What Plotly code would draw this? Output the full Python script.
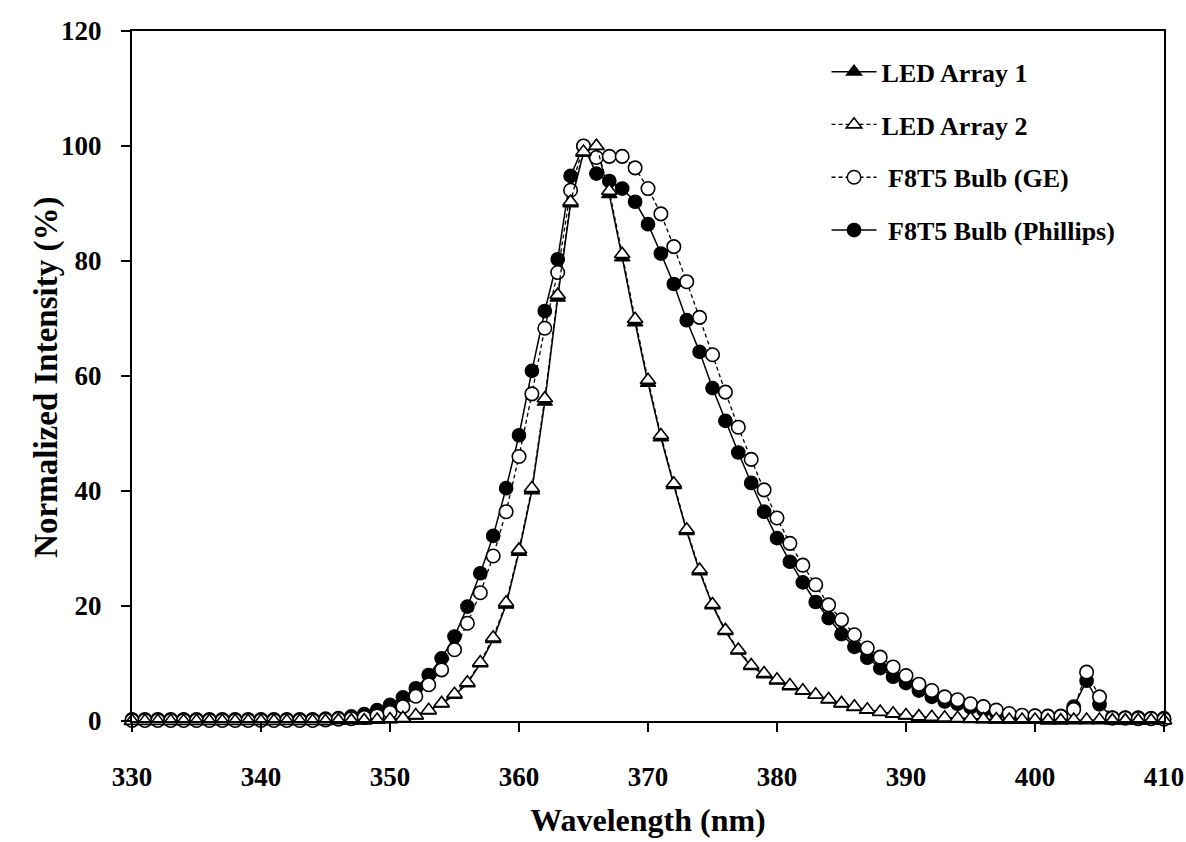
import plotly.graph_objects as go

wavelength = list(range(330, 411))

led_array_1 = [0, 0, 0, 0, 0, 0, 0, 0, 0, 0,
               0, 0, 0, 0, 0, 0, 0.1, 0.1, 0.1, 0.2,
               0.3, 0.5, 0.9, 1.8, 3.0, 4.5, 6.5, 10.0, 14.2, 20.2,
               29.4, 40.1, 55.5, 73.6, 90.0, 98.8, 100, 91.6, 80.6, 69.3,
               58.8, 49.3, 41.0, 33.0, 26.0, 20.1, 15.6, 12.2, 9.5, 8.1,
               7.0, 6.0, 5.2, 4.5, 3.7, 3.0, 2.4, 1.9, 1.5, 1.2,
               0.9, 0.7, 0.6, 0.5, 0.4, 0.3, 0.3, 0.2, 0.2, 0.2,
               0.2, 0.1, 0.1, 0.1, 0.1, 0.1, 0.1, 0.1, 0.1, 0.1, 0.1]

led_array_2 = [0, 0, 0, 0, 0, 0, 0, 0, 0, 0,
               0, 0, 0, 0, 0, 0, 0.1, 0.1, 0.1, 0.2,
               0.3, 0.5, 1.0, 1.9, 3.1, 4.7, 6.7, 10.2, 14.5, 20.6,
               29.8, 40.5, 56.1, 74.1, 90.3, 99.0, 100, 92.2, 81.2, 69.9,
               59.3, 49.7, 41.3, 33.3, 26.3, 20.3, 15.8, 12.4, 9.7, 8.3,
               7.2, 6.2, 5.3, 4.6, 3.8, 3.1, 2.5, 2.0, 1.6, 1.3,
               1.0, 0.8, 0.7, 0.6, 0.5, 0.4, 0.3, 0.3, 0.2, 0.2,
               0.2, 0.1, 0.1, 0.2, 0.2, 0.2, 0.1, 0.1, 0.1, 0.1, 0.1]

f8t5_ge = [0.1, 0.1, 0.1, 0.1, 0.1, 0.1, 0.1, 0.1, 0.1, 0.1,
           0.1, 0.1, 0.1, 0.1, 0.1, 0.2, 0.3, 0.4, 0.6, 0.9,
           1.5, 2.5, 4.3, 6.3, 8.9, 12.4, 17.0, 22.3, 28.7, 36.4,
           46.0, 56.9, 68.3, 78.0, 92.3, 100, 98.0, 98.2, 98.2, 96.2,
           92.6, 88.2, 82.5, 76.4, 70.2, 63.7, 57.2, 51.1, 45.5, 40.2,
           35.3, 30.9, 27.1, 23.7, 20.2, 17.6, 15.0, 12.7, 11.1, 9.4,
           7.9, 6.4, 5.3, 4.2, 3.7, 3.0, 2.5, 1.9, 1.3, 1.0,
           0.9, 0.8, 0.8, 2.0, 8.5, 4.2, 0.5, 0.5, 0.4, 0.4, 0.3]

f8t5_phillips = [0.3, 0.3, 0.3, 0.3, 0.3, 0.3, 0.3, 0.3, 0.3, 0.3,
                 0.3, 0.3, 0.3, 0.3, 0.3, 0.4, 0.5, 0.8, 1.2, 1.9,
                 2.8, 4.1, 5.7, 8.0, 10.9, 14.7, 19.9, 25.7, 32.2, 40.5,
                 49.7, 60.9, 71.3, 80.3, 94.8, 100, 95.2, 93.9, 92.6, 90.3,
                 86.4, 81.3, 76.0, 69.7, 64.2, 57.9, 52.2, 46.7, 41.4, 36.4,
                 31.8, 27.7, 24.1, 20.7, 17.9, 15.1, 12.9, 11.0, 9.2, 7.7,
                 6.6, 5.3, 4.2, 3.4, 3.0, 2.4, 1.9, 1.4, 1.0, 0.9,
                 0.9, 0.9, 0.9, 2.5, 7.0, 2.9, 0.6, 0.6, 0.6, 0.5, 0.5]

x_ticks = [330, 340, 350, 360, 370, 380, 390, 400, 410]
y_ticks = [0, 20, 40, 60, 80, 100, 120]

FONT = "Liberation Serif"

fig = go.Figure()

# drawing order: Phillips, LED1 underneath; GE, LED2 on top
fig.add_trace(go.Scatter(
    x=wavelength, y=f8t5_phillips, name="&nbsp;F8T5 Bulb (Phillips)", mode="lines+markers",
    line=dict(color="black", width=1.5, dash="solid"),
    marker=dict(symbol="circle", size=13.5, color="black", line=dict(color="black", width=1.2)),
    cliponaxis=False, legendrank=4, legendgroup="d"))
fig.add_trace(go.Scatter(
    x=wavelength, y=led_array_1, name="LED Array 1", mode="lines+markers",
    line=dict(color="black", width=1.5, dash="solid"),
    marker=dict(symbol="triangle-up", size=13.5, color="black", line=dict(color="black", width=1.2)),
    cliponaxis=False, legendrank=1, legendgroup="a"))
fig.add_trace(go.Scatter(
    x=wavelength, y=f8t5_ge, name="&nbsp;F8T5 Bulb (GE)", mode="lines+markers",
    line=dict(color="black", width=1.3, dash="4px,3px"),
    marker=dict(symbol="circle", size=13.5, color="white", line=dict(color="black", width=1.6)),
    cliponaxis=False, legendrank=3, legendgroup="c"))
fig.add_trace(go.Scatter(
    x=wavelength, y=led_array_2, name="LED Array 2", mode="lines+markers",
    line=dict(color="black", width=1.3, dash="4px,3px"),
    marker=dict(symbol="triangle-up", size=13.5, color="white", line=dict(color="black", width=1.6)),
    cliponaxis=False, legendrank=2, legendgroup="b"))

axis_common = dict(
    showgrid=False, zeroline=False, showline=True, linecolor="black", linewidth=2,
    mirror=True, ticks="outside", ticklen=9, tickwidth=2, tickcolor="black",
    automargin=False,
    tickfont=dict(family=FONT, size=27, color="black", weight="bold"),
)

fig.update_xaxes(range=[330, 410], tickvals=x_ticks, ticktext=[str(v) for v in x_ticks],
                 ticklabelstandoff=22,
                 title=dict(text="Wavelength (nm)", standoff=17,
                            font=dict(family=FONT, size=32, color="black", weight="bold")),
                 **axis_common)
fig.update_yaxes(range=[0, 120], tickvals=y_ticks, ticktext=[str(v) for v in y_ticks],
                 ticklabelstandoff=14,
                 **axis_common)

fig.add_annotation(
    text="Normalized Intensity (%)", textangle=-90,
    xref="paper", yref="paper", x=-0.0823, y=0.4976,
    xanchor="center", yanchor="middle", showarrow=False,
    font=dict(family=FONT, size=33, color="black", weight="bold"))

fig.update_layout(
    width=1186, height=842,
    margin=dict(l=132, r=22, t=31, b=121),
    paper_bgcolor="white", plot_bgcolor="white",
    showlegend=True,
    legend=dict(x=0.673, y=0.975, xanchor="left", yanchor="top",
                bgcolor="rgba(0,0,0,0)", borderwidth=0,
                tracegroupgap=16, itemwidth=45,
                font=dict(family=FONT, size=26, color="black", weight="bold")),
)

fig.write_html("out.html", config={"displayModeBar": False},
               post_script="document.body.style.margin='0px';")
